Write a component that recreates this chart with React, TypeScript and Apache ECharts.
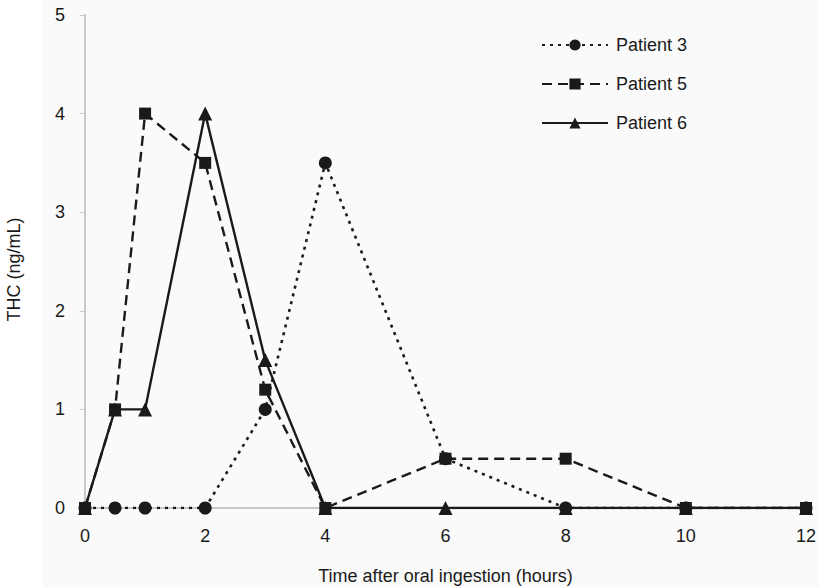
import React, { useEffect, useRef } from "react";
import * as echarts from "echarts";

const xTicks = [0, 2, 4, 6, 8, 10, 12];
const hours = [0, 0.5, 1, 2, 3, 4, 6, 8, 10, 12];
const patient3 = [0, 0, 0, 0, 1, 3.5, 0.5, 0, 0, 0];
const patient5 = [0, 1, 4, 3.5, 1.2, 0, 0.5, 0.5, 0, 0];
const patient6 = [0, 1, 1, 4, 1.5, 0, 0, 0, 0, 0];
const seriesNames = ["Patient 3", "Patient 5", "Patient 6"];

const FONT = "Liberation Sans, Arial, sans-serif";
const INK = "#1a1a1a";

export default function App() {
  const ref = useRef<HTMLDivElement>(null);
  useEffect(() => {
    const chart = echarts.init(ref.current!, null, { renderer: "svg" });
    const pair = (ys: number[]) => hours.map((h, i) => [h, ys[i]]);
    chart.setOption({
      animation: false,
      backgroundColor: "#ffffff",
      textStyle: { fontFamily: FONT },
      graphic: [
        {
          type: "rect",
          z: -10,
          silent: true,
          shape: { x: 43, y: 0, width: 776, height: 587 },
          style: { fill: "#fafafa" },
        },
      ],
      grid: {
        left: 85,
        right: 13,
        top: 15,
        bottom: 79,
        containLabel: false,
        outerBoundsMode: "none",
      },
      legend: {
        orient: "vertical",
        left: 536,
        top: 31,
        itemWidth: 66,
        itemHeight: 14,
        itemGap: 21,
        data: seriesNames,
        textStyle: { fontFamily: FONT, fontSize: 18, color: INK, padding: [0, 0, 0, 3] },
      },
      xAxis: {
        type: "value",
        min: 0,
        max: 12,
        interval: 2,
        name: "Time after oral ingestion (hours)",
        nameLocation: "middle",
        nameGap: 59,
        nameTextStyle: { fontFamily: FONT, fontSize: 18, color: INK },
        axisLine: { show: true, lineStyle: { color: "#c8c8c8", width: 2 } },
        axisTick: { show: false },
        splitLine: { show: false },
        axisLabel: { fontFamily: FONT, fontSize: 18, color: INK, margin: 19 },
      },
      yAxis: {
        type: "value",
        min: 0,
        max: 5,
        interval: 1,
        name: "THC (ng/mL)",
        nameLocation: "middle",
        nameRotate: 90,
        nameGap: 62,
        nameTextStyle: { fontFamily: FONT, fontSize: 18, color: INK, padding: [0, 16, 0, 0] },
        axisLine: { show: true, lineStyle: { color: "#c8c8c8", width: 2 } },
        axisTick: { show: true, length: 5, lineStyle: { color: "#c8c8c8", width: 1 } },
        splitLine: { show: false },
        axisLabel: { fontFamily: FONT, fontSize: 18, color: INK, margin: 20 },
      },
      series: [
        {
          name: "Patient 3",
          type: "line",
          data: pair(patient3),
          symbol: "circle",
          symbolSize: 13,
          z: 2,
          itemStyle: { color: INK },
          lineStyle: { color: INK, width: 2.6, type: [3, 5] },
        },
        {
          name: "Patient 6",
          type: "line",
          data: pair(patient6),
          symbol: "triangle",
          symbolSize: 14,
          z: 3,
          itemStyle: { color: INK },
          lineStyle: { color: INK, width: 2.4, type: "solid" },
        },
        {
          name: "Patient 5",
          type: "line",
          data: pair(patient5),
          symbol: "rect",
          symbolSize: 12,
          z: 4,
          itemStyle: { color: INK },
          lineStyle: { color: INK, width: 2.4, type: [10, 6] },
        },
      ],
    });
    return () => chart.dispose();
  }, []);
  return (
    <div
      ref={ref}
      style={{ position: "fixed", left: 0, top: 0, width: 819, height: 587 }}
    />
  );
}
